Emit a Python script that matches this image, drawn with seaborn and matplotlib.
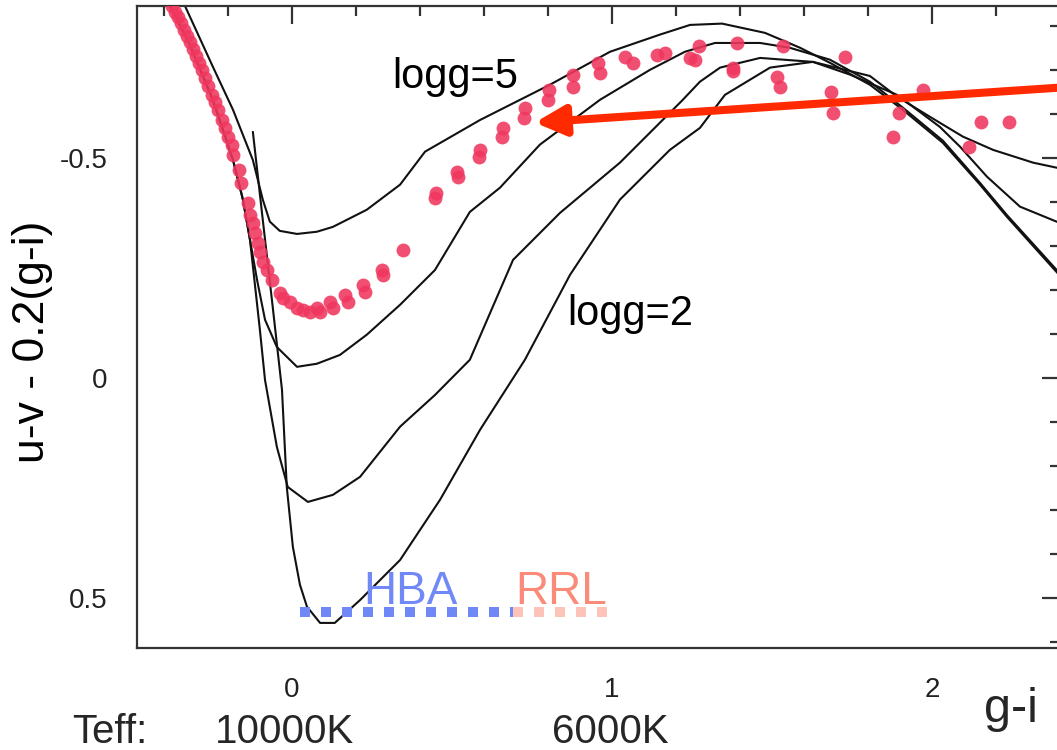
import matplotlib
matplotlib.use("Agg")
import matplotlib.pyplot as plt
from matplotlib.ticker import MultipleLocator
from matplotlib import transforms
import numpy as np
import pandas as pd
import seaborn as sns

# ---- model colour sequences (g-i, u-v - 0.2(g-i)) for four surface gravities ----
logg5_gi = [-0.334, -0.247, -0.184, -0.122, -0.091, -0.069, -0.038, 0.016, 0.078, 0.128,
            0.234, 0.338, 0.416, 0.588, 0.806, 0.994, 1.150, 1.244, 1.344, 1.478,
            1.588, 1.681, 1.806, 1.909, 2.034, 2.150, 2.234, 2.406]
logg5_uv = [-0.845, -0.707, -0.609, -0.495, -0.405, -0.355, -0.334, -0.327, -0.332, -0.343,
            -0.382, -0.439, -0.514, -0.586, -0.666, -0.741, -0.780, -0.802, -0.805, -0.784,
            -0.750, -0.716, -0.666, -0.609, -0.534, -0.439, -0.366, -0.227]

logg4_gi = [-0.381, -0.319, -0.247, -0.184, -0.153, -0.131, -0.109, -0.084, -0.047, 0.016,
            0.078, 0.150, 0.234, 0.338, 0.447, 0.556, 0.650, 0.775, 0.963, 1.119,
            1.228, 1.322, 1.463, 1.556, 1.681, 1.806, 1.909, 2.034, 2.150, 2.234, 2.406]
logg4_uv = [-0.845, -0.757, -0.632, -0.495, -0.405, -0.314, -0.223, -0.132, -0.070, -0.025,
            -0.032, -0.052, -0.098, -0.166, -0.245, -0.377, -0.432, -0.530, -0.632, -0.700,
            -0.741, -0.761, -0.761, -0.750, -0.723, -0.673, -0.614, -0.539, -0.443, -0.370, -0.232]

logg3_gi = [-0.381, -0.319, -0.247, -0.184, -0.153, -0.131, -0.100, -0.084, -0.047, -0.013,
            0.050, 0.128, 0.213, 0.338, 0.447, 0.556, 0.691, 0.838, 1.025, 1.219,
            1.275, 1.338, 1.463, 1.628, 1.744, 1.891, 2.025, 2.088, 2.172, 2.275, 2.406]
logg3_uv = [-0.845, -0.757, -0.632, -0.495, -0.405, -0.314, -0.109, 0.005, 0.157, 0.248,
            0.282, 0.266, 0.225, 0.111, 0.039, -0.041, -0.268, -0.375, -0.489, -0.630,
            -0.673, -0.705, -0.727, -0.718, -0.689, -0.643, -0.570, -0.525, -0.457, -0.389, -0.350]

logg2_gi = [-0.122, -0.091, -0.059, -0.031, -0.016, 0.003, 0.025, 0.047, 0.088, 0.134,
            0.213, 0.338, 0.463, 0.588, 0.728, 0.869, 1.025, 1.181, 1.275, 1.353,
            1.494, 1.628, 1.806, 1.891, 1.994, 2.097, 2.191, 2.316, 2.406]
logg2_uv = [-0.559, -0.359, -0.155, 0.027, 0.248, 0.384, 0.470, 0.520, 0.557, 0.557,
            0.505, 0.414, 0.277, 0.118, -0.041, -0.234, -0.405, -0.518, -0.568, -0.643,
            -0.705, -0.718, -0.686, -0.639, -0.593, -0.548, -0.518, -0.489, -0.475]

# ---- observed stars ----
star_gi = [-0.375, -0.366, -0.356, -0.347, -0.338, -0.328, -0.319, -0.309, -0.300, -0.291,
           -0.281, -0.272, -0.263, -0.250, -0.241, -0.231, -0.219, -0.209, -0.200, -0.188,
           -0.184, -0.166, -0.159, -0.138, -0.131, -0.122, -0.116, -0.106, -0.100, -0.091,
           -0.078, -0.063, -0.038, -0.028, -0.006, 0.016, 0.034, 0.056, 0.078, 0.088,
           0.119, 0.128, 0.166, 0.175, 0.222, 0.228, 0.281, 0.284, 0.347, 0.447,
           0.450, 0.516, 0.519, 0.584, 0.588, 0.656, 0.659, 0.725, 0.728, 0.800,
           0.803, 0.878, 0.878, 0.963, 0.956, 1.041, 1.066, 1.141, 1.166, 1.244,
           1.259, 1.272, 1.378, 1.378, 1.391, 1.516, 1.525, 1.534, 1.684, 1.691,
           1.728, 1.878, 1.897, 1.972, 2.116, 2.153, 2.241]
star_uv = [-0.845, -0.832, -0.820, -0.807, -0.791, -0.777, -0.764, -0.748, -0.732, -0.716,
           -0.700, -0.682, -0.664, -0.643, -0.627, -0.609, -0.586, -0.568, -0.548, -0.530,
           -0.507, -0.473, -0.443, -0.398, -0.370, -0.352, -0.330, -0.307, -0.286, -0.264,
           -0.245, -0.223, -0.193, -0.182, -0.173, -0.159, -0.155, -0.150, -0.159, -0.150,
           -0.173, -0.159, -0.189, -0.173, -0.211, -0.195, -0.245, -0.234, -0.291, -0.409,
           -0.420, -0.468, -0.457, -0.502, -0.518, -0.548, -0.568, -0.591, -0.614, -0.632,
           -0.655, -0.661, -0.689, -0.693, -0.716, -0.730, -0.716, -0.734, -0.739, -0.727,
           -0.723, -0.755, -0.705, -0.698, -0.761, -0.684, -0.661, -0.755, -0.650, -0.602,
           -0.730, -0.548, -0.602, -0.655, -0.525, -0.582, -0.582]

# ---- colour ranges of horizontal-branch A stars and RR Lyrae ----
hba_range = [0.025, 0.69]
rrl_range = [0.69, 0.99]
range_level = 0.532

# ---- arrow pointing at the stellar sequence ----
arrow_tip = (0.759, -0.580)
arrow_tail = (2.47, -0.663)

x_ticks = [0, 1, 2]
x_ticklabels = ["0", "1", "2"]
y_ticks = [-0.5, 0, 0.5]
y_ticklabels = ["-0.5", "0", "0.5"]

teff_gi = [-0.022, 0.994]
teff_labels = ["10000K", "6000K"]

sns.set_theme(style="white")
plt.rcParams["font.family"] = ["Liberation Sans", "DejaVu Sans"]
plt.rcParams["axes.unicode_minus"] = False

fig = plt.figure(figsize=(10.57, 7.5), dpi=100)
ax = fig.add_axes([137 / 1057, 102 / 750, 923 / 1057, 642 / 750])

line_kw = dict(color="#111111", linewidth=1.5, sort=False, estimator=None, ax=ax, legend=False)
for gi, uv in [(logg5_gi, logg5_uv), (logg4_gi, logg4_uv),
               (logg3_gi, logg3_uv), (logg2_gi, logg2_uv)]:
    sns.lineplot(x=gi, y=uv, **line_kw)

sns.scatterplot(x=star_gi, y=star_uv, s=100, color="#f0375e", alpha=0.88,
                linewidth=0, ax=ax, zorder=3, legend=False)

# HBA / RRL colour ranges
ax.plot(hba_range, [range_level] * 2, color="#7088f5", lw=7.2,
        linestyle=(0, (1, 1.1)), dash_capstyle="butt", solid_capstyle="butt", zorder=2)
ax.plot(rrl_range, [range_level] * 2, color="#fdc2b8", lw=7.2,
        linestyle=(0, (1, 1.1)), dash_capstyle="butt", solid_capstyle="butt", zorder=2)
ax.text(0.222, 0.514, "HBA", color="#7189f6", fontsize=33, ha="left", va="baseline")
ax.text(0.697, 0.514, "RRL", color="#fa8b7b", fontsize=33, ha="left", va="baseline")

ax.text(0.3125, -0.659, "logg=5", fontsize=30, ha="left", va="baseline", color="black")
ax.text(0.859, -0.120, "logg=2", fontsize=30, ha="left", va="baseline", color="black")

ax.annotate("", xy=arrow_tip, xytext=arrow_tail, annotation_clip=False,
            arrowprops=dict(arrowstyle="-|>,head_length=0.3,head_width=0.15",
                            mutation_scale=60, lw=5.8, color="#ff2a00",
                            shrinkA=0, shrinkB=0),
            zorder=5)

ax.set_xlim(-0.484, 2.4)
ax.set_ylim(0.614, -0.845)
ax.set_xticks(x_ticks, labels=x_ticklabels)
ax.set_yticks(y_ticks, labels=y_ticklabels)
ax.xaxis.set_minor_locator(MultipleLocator(0.2))
ax.yaxis.set_minor_locator(MultipleLocator(0.1))
ax.tick_params(which="both", direction="in", top=True, right=True,
               color="#333333", width=1.6)
ax.tick_params(which="major", length=13, pad=21, labelsize=20, labelcolor="#222222")
ax.tick_params(which="minor", length=7)
for sp in ax.spines.values():
    sp.set_color("#333333")
    sp.set_linewidth(1.6)

ax.set_xlabel("")
ax.set_ylabel("u-v - 0.2(g-i)", fontsize=32, color="black")
ax.yaxis.set_label_coords(-0.091, 0.4766)

fig.text(1011 / 1057, 28 / 750, "g-i", fontsize=35, ha="center", va="baseline")
blend = transforms.blended_transform_factory(ax.transData, fig.transFigure)
fig.text(72 / 1057, 7 / 750, "Teff:", fontsize=29, ha="left", va="baseline")
for gi, lab in zip(teff_gi, teff_labels):
    ax.text(gi, 7 / 750, lab, transform=blend, fontsize=29, ha="center",
            va="baseline", clip_on=False)

fig.savefig("out.png", dpi=100)
